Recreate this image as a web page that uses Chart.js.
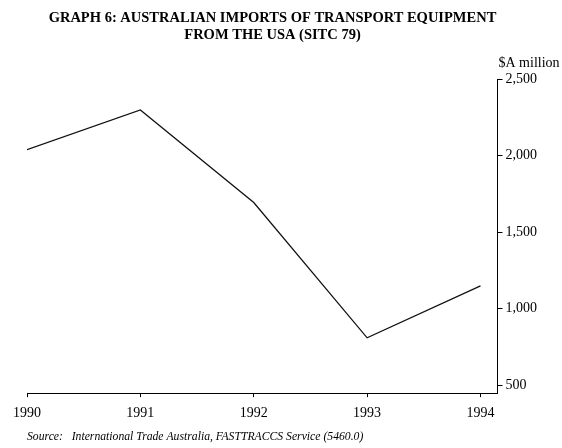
<!DOCTYPE html>
<html>
<head>
<meta charset="utf-8">
<script src="https://cdn.jsdelivr.net/npm/chart.js@4/dist/chart.umd.min.js"></script>
<style>
  body { margin: 0; background: #fff; }
  canvas { display: block; }
</style>
</head>
<body>
<canvas id="graph6" width="562" height="448"></canvas>
<script>
const years = [1990, 1991, 1992, 1993, 1994];
const imports = [2040, 2300, 1695, 810, 1150];   // $A million
const yTicks = [500, 1000, 1500, 2000, 2500];
const unitLabel = '$A million';

const serif = "'Liberation Serif', 'Times New Roman', serif";

// unit text sits above the right-hand axis, horizontal
const unitPlugin = {
  id: 'unitLabel',
  afterDraw(chart) {
    const { ctx, chartArea } = chart;
    ctx.save();
    ctx.font = '14px ' + serif;
    ctx.fillStyle = '#000';
    ctx.textAlign = 'left';
    ctx.textBaseline = 'middle';
    ctx.fillText(unitLabel, chartArea.right + 1, chartArea.top - 16);
    ctx.restore();
  }
};

new Chart(document.getElementById('graph6'), {
  type: 'line',
  data: {
    datasets: [{
      label: 'Imports',
      data: years.map((yr, i) => ({ x: yr, y: imports[i] })),
      borderColor: '#111',
      borderWidth: 1.3,
      pointRadius: 0,
      tension: 0
    }]
  },
  plugins: [unitPlugin],
  options: {
    responsive: false,
    animation: false,
    layout: { padding: { left: 5, right: 22, top: 5, bottom: 0 } },
    plugins: {
      legend: { display: false },
      tooltip: { enabled: false },
      title: {
        display: true,
        text: ['GRAPH 6: AUSTRALIAN IMPORTS OF TRANSPORT EQUIPMENT', 'FROM THE USA (SITC 79)'],
        color: '#000',
        font: { family: serif, size: 14.5, weight: 'bold', lineHeight: 1.15 },
        padding: { top: 5, bottom: 36 }
      }
    },
    scales: {
      x: {
        type: 'linear',
        min: 1990,
        max: 1994.15,
        afterBuildTicks: axis => { axis.ticks = years.map(v => ({ value: v })); },
        ticks: {
          color: '#000',
          font: { family: serif, size: 14 },
          padding: 8,
          maxRotation: 0,
          callback: v => String(v)
        },
        grid: { drawOnChartArea: false, tickLength: 4, color: '#000' },
        border: { color: '#000', width: 1 },
        title: {
          display: true,
          text: 'Source:   International Trade Australia, FASTTRACCS Service (5460.0)',
          align: 'start',
          color: '#000',
          font: { family: serif, size: 11.7, style: 'italic' },
          padding: { top: 0 }
        }
      },
      y: {
        position: 'right',
        min: 448,
        max: 2500,
        afterBuildTicks: axis => { axis.ticks = yTicks.map(v => ({ value: v })); },
        ticks: {
          color: '#000',
          font: { family: serif, size: 14 },
          padding: 3,
          callback: v => v.toLocaleString('en-US')
        },
        grid: { drawOnChartArea: false, tickLength: 5, color: '#000' },
        border: { color: '#000', width: 1 }
      },
      // empty spacer on the left so the plot starts where the reference does
      spacer: {
        type: 'linear',
        position: 'left',
        ticks: { display: false },
        grid: { display: false },
        border: { display: false },
        afterFit: s => { s.width = 22; }
      }
    }
  }
});
</script>
</body>
</html>
